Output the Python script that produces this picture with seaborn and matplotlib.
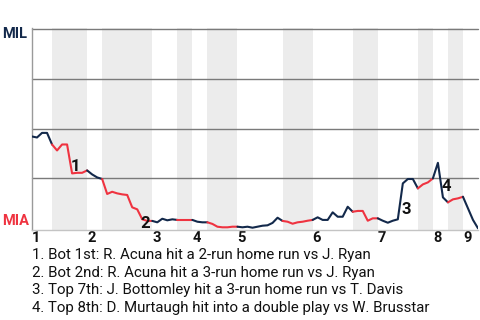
import matplotlib
matplotlib.use("Agg")
import matplotlib.pyplot as plt
import seaborn as sns
import pandas as pd

# ---- data ----
win_prob = [0.46, 0.455, 0.478, 0.478, 0.42, 0.39, 0.42, 0.42, 0.275, 0.278,
            0.278, 0.29, 0.27, 0.255, 0.247, 0.172, 0.183, 0.175, 0.17, 0.167,
            0.105, 0.095, 0.045, 0.037, 0.037, 0.03, 0.048, 0.04, 0.045, 0.042,
            0.042, 0.042, 0.042, 0.033, 0.03, 0.03, 0.022, 0.008, 0.005, 0.005,
            0.008, 0.008, 0.005, 0.008, 0.003, 0.008, 0.013, 0.015, 0.027, 0.053,
            0.037, 0.033, 0.023, 0.03, 0.033, 0.038, 0.042, 0.055, 0.042, 0.042,
            0.08, 0.058, 0.058, 0.108, 0.083, 0.087, 0.087, 0.038, 0.05, 0.05,
            0.038, 0.028, 0.038, 0.045, 0.225, 0.247, 0.247, 0.2, 0.22, 0.23,
            0.25, 0.328, 0.155, 0.13, 0.145, 0.15, 0.158, 0.1, 0.042, 0.0]
half_starts = [0, 4, 11, 14, 24, 29, 32, 35, 41, 50, 56, 64, 69, 77, 80, 83, 86, 89]
inning_labels = ["1", "2", "3", "4", "5", "6", "7", "8", "9"]
event_marks = ["1", "2", "3", "4"]
event_x = [8.6, 22.5, 74.6, 82.6]
event_y = [0.308, 0.025, 0.095, 0.208]
event_text = [
    "1. Bot 1st: R. Acuna hit a 2-run home run vs J. Ryan",
    "2. Bot 2nd: R. Acuna hit a 3-run home run vs J. Ryan",
    "3. Top 7th: J. Bottomley hit a 3-run home run vs T. Davis",
    "4. Top 8th: D. Murtaugh hit into a double play vs W. Brusstar",
]
teams = ["MIL", "MIA"]

NAVY = "#13294b"
RED = "#ef3340"

sns.set_style("white")
plt.rcParams["font.family"] = ["Roboto", "DejaVu Sans"]

fig = plt.figure(figsize=(4.8, 3.2), dpi=100)
ax = fig.add_axes([32 / 480, 0.28125, 446 / 480, 201.7 / 320])

n = len(win_prob) - 1
ax.set_xlim(0, n)
ax.set_ylim(-0.0085, 1.002)

# shading for bottom halves
for i in range(1, len(half_starts) - 1, 2):
    ax.axvspan(half_starts[i], half_starts[i + 1], color="#ececec", lw=0, zorder=0)

for g in [0.25, 0.5, 0.75, 1.0]:
    ax.axhline(g, color="#7a7a7a", lw=1.0, zorder=1, clip_on=False)

df = pd.DataFrame({"x": range(len(win_prob)), "p": win_prob})
for i in range(len(half_starts) - 1):
    a, b = half_starts[i], half_starts[i + 1]
    seg = df.iloc[a:b + 1]
    sns.lineplot(data=seg, x="x", y="p", color=NAVY if i % 2 == 0 else RED,
                 lw=1.5, estimator=None, sort=False, ax=ax, zorder=3)

for m, ex, ey in zip(event_marks, event_x, event_y):
    ax.text(ex, ey, m, ha="center", va="center", fontsize=12,
            fontweight="bold", color="#111111", zorder=4)

inning_starts = half_starts[0:-1:2]
ax.set_xticks(inning_starts)
ax.set_xticklabels(inning_labels, ha="left", fontweight="bold", fontsize=10.5,
                   color="#111111")
ax.tick_params(axis="x", length=0, pad=1)
ax.set_yticks([])
ax.set_xlabel("")
ax.set_ylabel("")

for s in ["top", "right"]:
    ax.spines[s].set_visible(False)
ax.spines["left"].set_color("#9a9a9a")
ax.spines["left"].set_linewidth(1.0)
ax.spines["bottom"].set_color("#c4c4c4")
ax.spines["bottom"].set_linewidth(1.0)

fig.text(2 / 480, 1 - 34 / 320, teams[0], color=NAVY, fontweight="bold",
         fontsize=10.5, ha="left", va="center")
fig.text(2 / 480, 1 - 221 / 320, teams[1], color=RED, fontweight="bold",
         fontsize=10.5, ha="left", va="center")

for k, t in enumerate(event_text):
    fig.text(32 / 480, 1 - (255 + 17.7 * k) / 320, t, fontsize=10.8,
             color="#111111", ha="left", va="center")

fig.savefig("out.png", dpi=100)
